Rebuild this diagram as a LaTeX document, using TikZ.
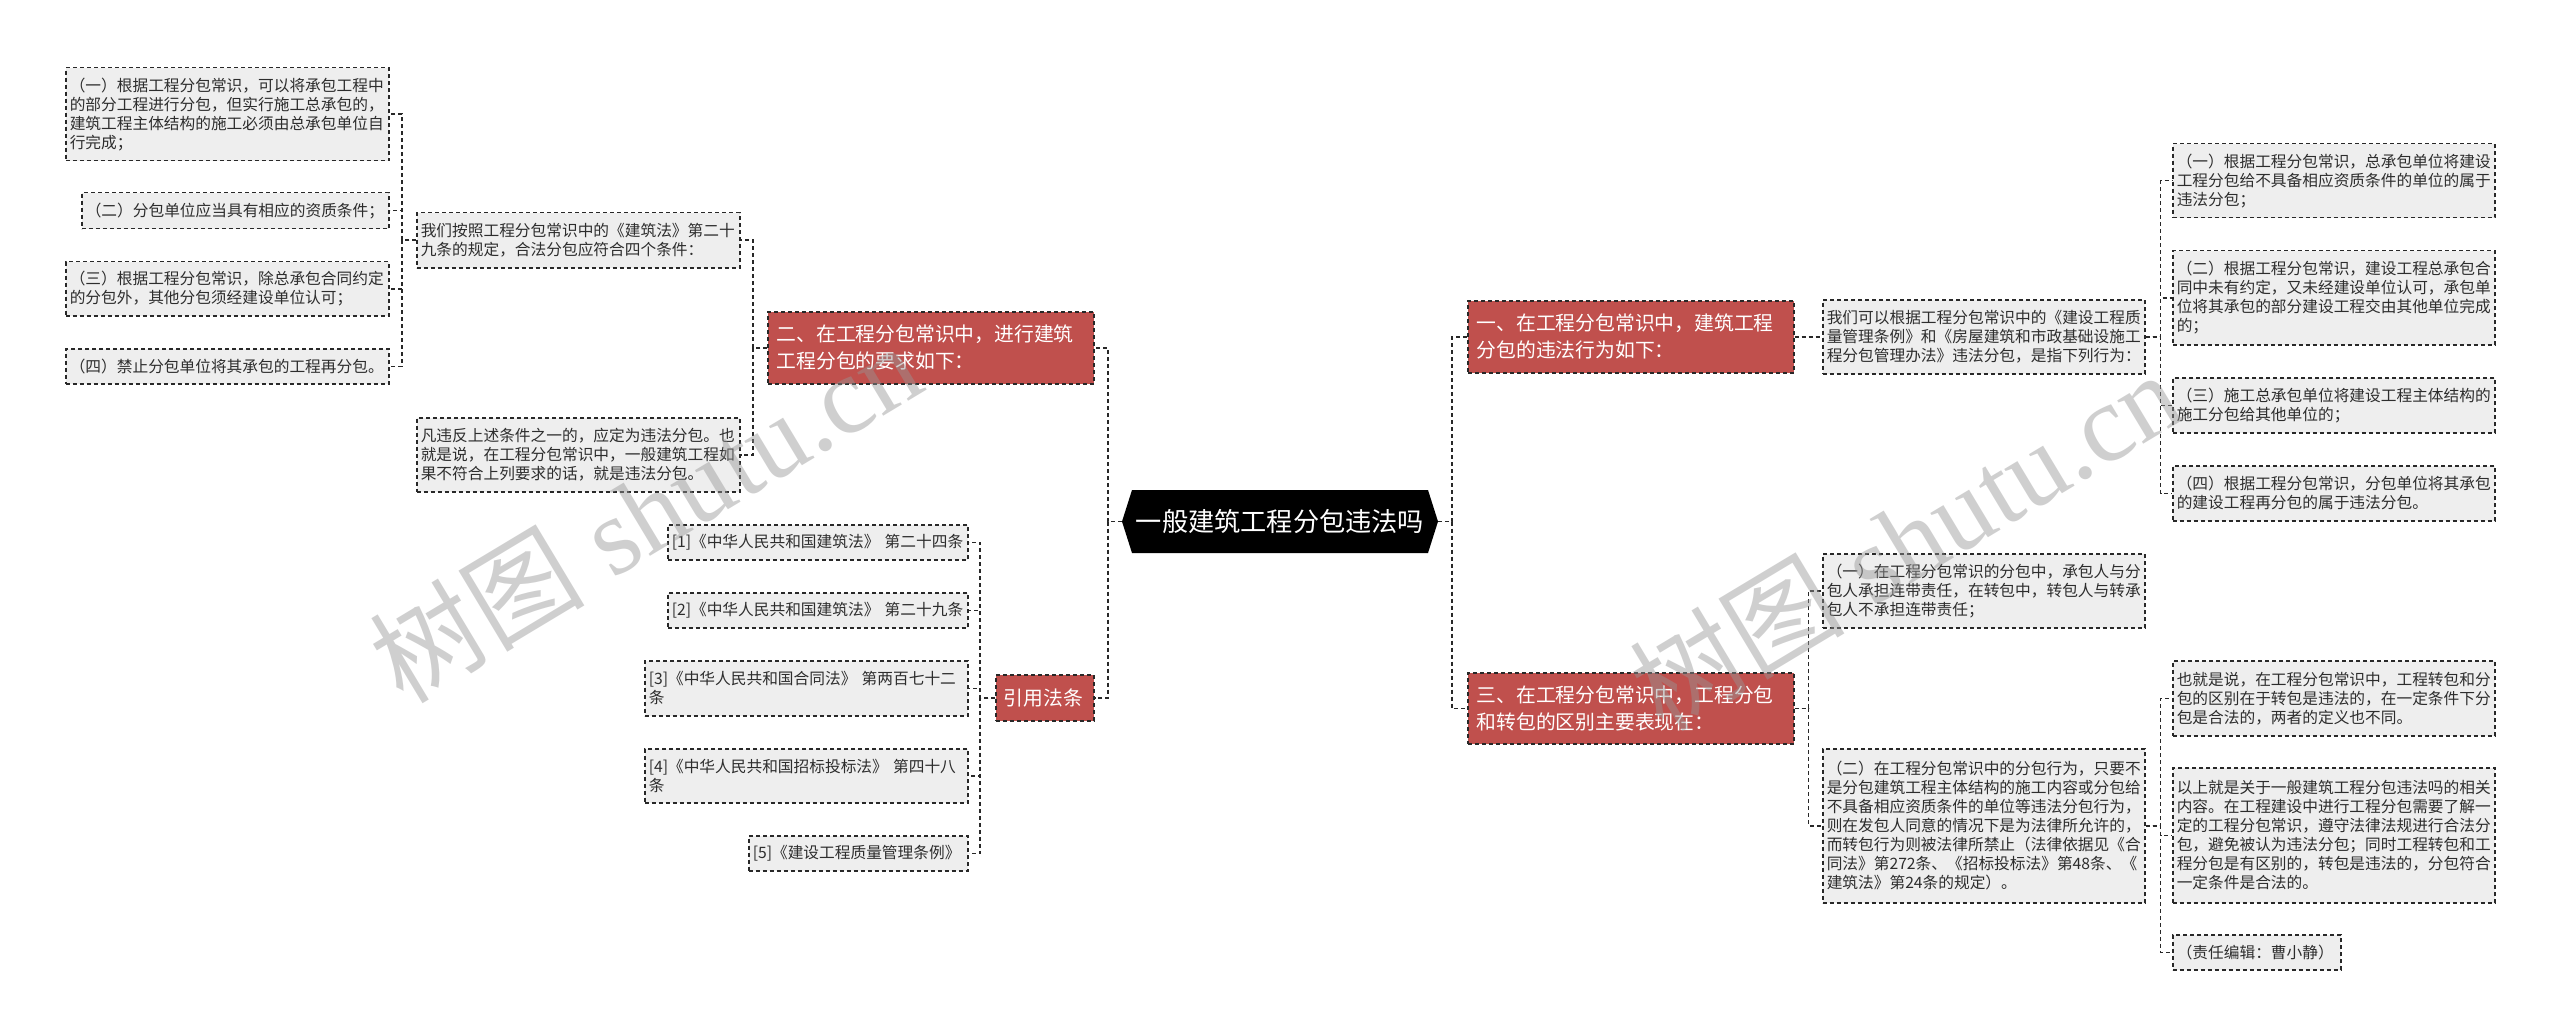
\documentclass[tikz,border=0pt]{standalone}
\usepackage{fontspec}
\newfontfamily\cjk{Noto Sans CJK SC}
\newfontfamily\wmserif{Liberation Serif}
\definecolor{boxfill}{RGB}{238,238,238}
\definecolor{boxline}{RGB}{40,40,40}
\definecolor{redfill}{RGB}{192,80,77}
\definecolor{wmcol}{RGB}{150,150,150}
\definecolor{txt}{RGB}{45,45,45}
\tikzset{
  dsh/.style={dash pattern=on 4pt off 3pt, line width=1.5pt},
  leaf/.style={draw=boxline, dsh, fill=boxfill, anchor=north west, align=left,
    inner xsep=4pt, inner ysep=0pt, text=txt, font=\cjk\fontsize{15.7}{19}\selectfont},
  redn/.style={draw=boxline, dsh, fill=redfill, anchor=north west, align=left,
    inner xsep=9pt, inner ysep=0pt, text=white, font=\cjk\fontsize{19.8}{27}\selectfont},
  rootn/.style={minimum width=316pt, minimum height=63pt, inner sep=0pt, text=white,
    font=\cjk\fontsize{26.2}{30}\selectfont},
  conn/.style={draw=boxline, dsh},
  wmark/.style={text=wmcol, text opacity=0.45, rotate=31, inner sep=0pt,
    font=\wmserif\fontsize{110}{110}\selectfont}
}
\begin{document}
\begin{tikzpicture}[x=1pt,y=-1pt]
\fill[white] (0,0) rectangle (2560,1035);
\useasboundingbox (0,0) rectangle (2560,1035);

% root
\fill[black] (1122,521.5) -- (1132,490) -- (1428,490) -- (1438,521.5) -- (1428,553) -- (1132,553) -- cycle;
\node[rootn] (root) at (1280,521.5) {一般建筑工程分包违法吗};

% left branch 二
\node[redn, text width=308pt, minimum height=72pt] (er) at (767,311) {二、在工程分包常识中，进行建筑\\工程分包的要求如下：};
\node[leaf, text width=315pt, minimum height=55pt] (b1) at (416,212) {我们按照工程分包常识中的《建筑法》第二十\\九条的规定，合法分包应符合四个条件：};
\node[leaf, text width=315pt, minimum height=74pt] (b2) at (416,417) {凡违反上述条件之一的，应定为违法分包。也\\就是说，在工程分包常识中，一般建筑工程如\\果不符合上列要求的话，就是违法分包。};
\node[leaf, text width=315pt, minimum height=93pt] (a1) at (65,67) {（一）根据工程分包常识，可以将承包工程中\\的部分工程进行分包，但实行施工总承包的，\\建筑工程主体结构的施工必须由总承包单位自\\行完成；};
\node[leaf, text width=299pt, minimum height=36pt] (a2) at (81,192) {（二）分包单位应当具有相应的资质条件；};
\node[leaf, text width=315pt, minimum height=54pt] (a3) at (65,261) {（三）根据工程分包常识，除总承包合同约定\\的分包外，其他分包须经建设单位认可；};
\node[leaf, text width=315pt, minimum height=35pt] (a4) at (65,348) {（四）禁止分包单位将其承包的工程再分包。};

% left branch 引用法条
\node[redn, inner xsep=8pt, text width=82pt, minimum height=46pt] (yin) at (995,674) {引用法条};
\node[leaf, text width=292pt, minimum height=35pt] (r1) at (667,524) {[1]《中华人民共和国建筑法》 第二十四条};
\node[leaf, text width=292pt, minimum height=35pt] (r2) at (667,592) {[2]《中华人民共和国建筑法》 第二十九条};
\node[leaf, text width=315pt, minimum height=55pt] (r3) at (644,660) {[3]《中华人民共和国合同法》 第两百七十二\\条};
\node[leaf, text width=315pt, minimum height=54pt] (r4) at (644,748) {[4]《中华人民共和国招标投标法》 第四十八\\条};
\node[leaf, text width=211pt, minimum height=35pt] (r5) at (748,835) {[5]《建设工程质量管理条例》};

% right branch 一
\node[redn, text width=308pt, minimum height=72pt] (yi) at (1467,300) {一、在工程分包常识中，建筑工程\\分包的违法行为如下：};
\node[leaf, text width=314pt, minimum height=74pt] (c1) at (1822,299) {我们可以根据工程分包常识中的《建设工程质\\量管理条例》和《房屋建筑和市政基础设施工\\程分包管理办法》违法分包，是指下列行为：};
\node[leaf, text width=314pt, minimum height=74pt] (d1) at (2172,143) {（一）根据工程分包常识，总承包单位将建设\\工程分包给不具备相应资质条件的单位的属于\\违法分包；};
\node[leaf, text width=314pt, minimum height=94pt] (d2) at (2172,250) {（二）根据工程分包常识，建设工程总承包合\\同中未有约定，又未经建设单位认可，承包单\\位将其承包的部分建设工程交由其他单位完成\\的；};
\node[leaf, text width=314pt, minimum height=55pt] (d3) at (2172,377) {（三）施工总承包单位将建设工程主体结构的\\施工分包给其他单位的；};
\node[leaf, text width=314pt, minimum height=55pt] (d4) at (2172,465) {（四）根据工程分包常识，分包单位将其承包\\的建设工程再分包的属于违法分包。};

% right branch 三
\node[redn, text width=308pt, minimum height=71pt] (san) at (1467,672) {三、在工程分包常识中，工程分包\\和转包的区别主要表现在：};
\node[leaf, text width=314pt, minimum height=74pt] (e1) at (1822,553) {（一）在工程分包常识的分包中，承包人与分\\包人承担连带责任，在转包中，转包人与转承\\包人不承担连带责任；};
\node[leaf, text width=314pt, minimum height=154pt] (e2) at (1822,748) {（二）在工程分包常识中的分包行为，只要不\\是分包建筑工程主体结构的施工内容或分包给\\不具备相应资质条件的单位等违法分包行为，\\则在发包人同意的情况下是为法律所允许的，\\而转包行为则被法律所禁止（法律依据见《合\\同法》第272条、《招标投标法》第48条、《\\建筑法》第24条的规定）。};
\node[leaf, text width=314pt, minimum height=75pt] (f1) at (2172,660) {也就是说，在工程分包常识中，工程转包和分\\包的区别在于转包是违法的，在一定条件下分\\包是合法的，两者的定义也不同。};
\node[leaf, text width=314pt, minimum height=135pt] (f2) at (2172,767) {以上就是关于一般建筑工程分包违法吗的相关\\内容。在工程建设中进行工程分包需要了解一\\定的工程分包常识，遵守法律法规进行合法分\\包，避免被认为违法分包；同时工程转包和工\\程分包是有区别的，转包是违法的，分包符合\\一定条件是合法的。};
\node[leaf, text width=160pt, minimum height=35pt] (f3) at (2172,934) {（责任编辑：曹小静）};

% connectors
\draw[conn] (root.west) -- ++(-14,0) |- (er.east);
\draw[conn] (root.west) -- ++(-14,0) |- (yin.east);
\draw[conn] (root.east) -- ++(14,0) |- (yi.west);
\draw[conn] (root.east) -- ++(14,0) |- (san.west);

\draw[conn] (er.west) -- ++(-14,0) |- (b1.east);
\draw[conn] (er.west) -- ++(-14,0) |- (b2.east);
\foreach \c in {a1,a2,a3,a4}
  \draw[conn] (b1.west) -- ++(-14,0) |- (\c.east);
\foreach \c in {r1,r2,r3,r4,r5}
  \draw[conn] (yin.west) -- ++(-15,0) |- (\c.east);

\draw[conn] (yi.east) -- (c1.west);
\foreach \c in {d1,d2,d3,d4}
  \draw[conn] (c1.east) -- ++(15,0) |- (\c.west);
\draw[conn] (san.east) -- ++(14,0) |- (e1.west);
\draw[conn] (san.east) -- ++(14,0) |- (e2.west);
\foreach \c in {f1,f2,f3}
  \draw[conn] (e2.east) -- ++(15,0) |- (\c.west);

% watermarks
\node[wmark] (wm1) at (645,512) {{\cjk\fontsize{108}{110}\selectfont 树图} shutu.cn};
\node[wmark] (wm2) at (1905,540) {{\cjk\fontsize{108}{110}\selectfont 树图} shutu.cn};
\end{tikzpicture}
\end{document}
